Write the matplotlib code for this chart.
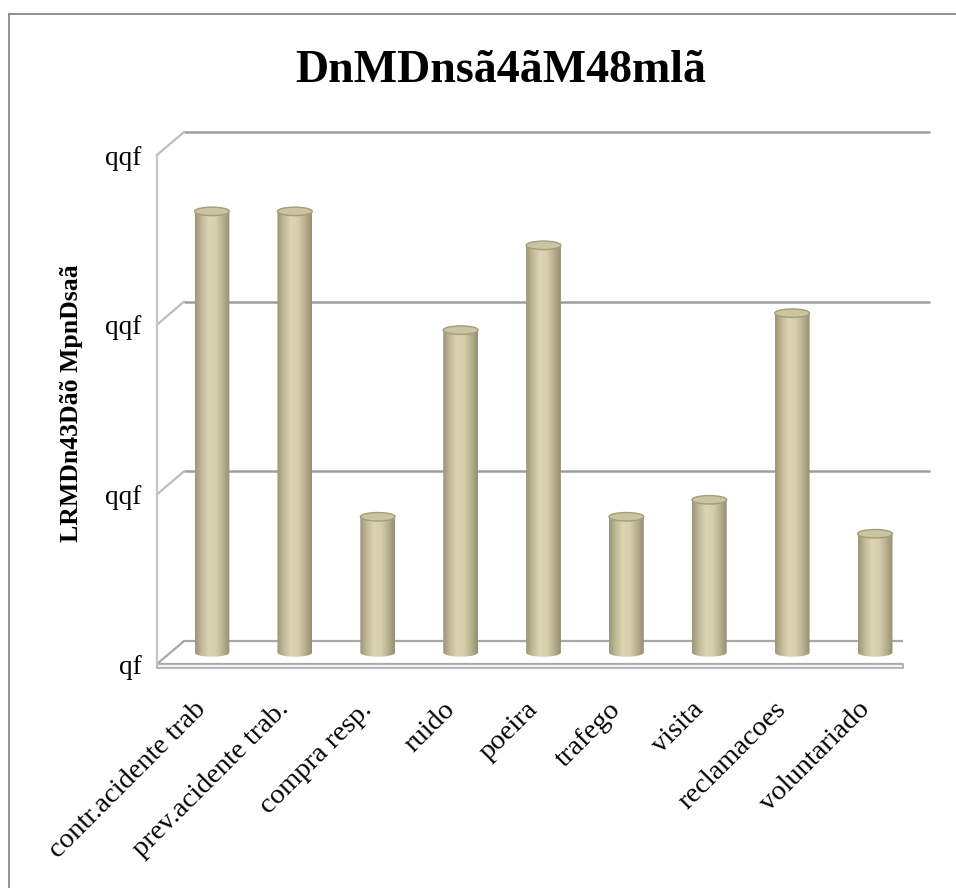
import numpy as np
import matplotlib
matplotlib.use("Agg")
import matplotlib.pyplot as plt
from matplotlib.colors import LinearSegmentedColormap
from matplotlib.lines import Line2D
from matplotlib.patches import Ellipse, PathPatch, Polygon
from matplotlib.path import Path

categories = [
    "contr.acidente trab",
    "prev.acidente trab.",
    "compra resp.",
    "ruido",
    "poeira",
    "trafego",
    "visita",
    "reclamacoes",
    "voluntariado",
]
values = [26, 26, 8, 19, 24, 8, 9, 20, 7]
y_ticks = [0, 10, 20, 30]
y_tick_labels = ["qf", "qqf", "qqf", "qqf"]
title = "DnMDnsã4ãM48mlã"
y_label = "LRMDn43Dãõ MpnDsaã"

SERIF = "Liberation Serif"
W, H = 956, 888

# depth of the pseudo-3d box, in data units (x: categories, y: values)
DX, DY = 0.326, 1.355
BAR_W = 0.42
CAP_H = 0.5

fig = plt.figure(figsize=(W / 100, H / 100), dpi=100)
fig.patch.set_facecolor("white")

left, right, top, bottom = 157, 903, 155, 664
ax = fig.add_axes([left / W, 1 - bottom / H, (right - left) / W, (bottom - top) / H])
ax.set_facecolor("none")
for s in ax.spines.values():
    s.set_visible(False)

x0, x1 = -0.5, len(categories) - 0.5
ymax = y_ticks[-1]

# floor slab
floor = Polygon([(x0, 0), (x1, 0), (x1 + DX, DY), (x0 + DX, DY)], closed=True,
                facecolor="white", edgecolor="#a8a8a8", lw=1.6, zorder=1)
ax.add_patch(floor)
slab = Polygon([(x0, 0), (x1, 0), (x1, -0.22), (x0, -0.22)], closed=True,
               facecolor="#f4f4f4", edgecolor="#a8a8a8", lw=1.2, zorder=1, clip_on=False)
ax.add_patch(slab)

# back wall gridlines and left wall
for v in y_ticks[1:]:
    ax.plot([x0 + DX, x1 + DX], [v + DY, v + DY], color="#9e9e9e", lw=1.8,
            zorder=1, clip_on=False, solid_capstyle="butt")
    ax.plot([x0, x0 + DX], [v, v + DY], color="#bdbdbd", lw=1.6, zorder=1, clip_on=False)
ax.plot([x0, x0], [0, ymax], color="#c4c4c4", lw=1.6, zorder=1, clip_on=False)

# cylinders
body_cmap = LinearSegmentedColormap.from_list(
    "cyl", ["#9d9677", "#c2bb98", "#dcd5b4", "#d6cfad", "#b9b290", "#958e70"])
grad = np.linspace(0, 1, 128)[None, :]
theta = np.linspace(0, -np.pi, 40)
for i, v in enumerate(values):
    xc = i + DX / 2
    yb, yt = DY / 2, v + DY / 2
    xa, xb = xc - BAR_W / 2, xc + BAR_W / 2
    verts = [(xa, yb), (xa, yt), (xb, yt), (xb, yb)]
    verts += list(zip(xc + BAR_W / 2 * np.cos(theta), yb + CAP_H / 2 * np.sin(theta)))
    verts.append((xa, yb))
    clip = PathPatch(Path(verts), transform=ax.transData)
    im = ax.imshow(grad, cmap=body_cmap, extent=(xa, xb, yb - CAP_H, yt),
                   aspect="auto", zorder=3, interpolation="bicubic")
    im.set_clip_path(clip)
    ax.add_patch(Ellipse((xc, yt), BAR_W, CAP_H, facecolor="#cbc4a1",
                         edgecolor="#a39c7d", lw=1.0, zorder=4))

ax.set_xlim(x0, x1)
ax.set_ylim(0, ymax)

ax.set_yticks(y_ticks)
ax.set_yticklabels(y_tick_labels, fontsize=19.5, family=SERIF)
ax.set_xticks(np.arange(len(categories)) + 0.05)
ax.set_xticklabels(categories, rotation=45, ha="right", va="center",
                   rotation_mode="anchor", fontsize=20.5, family=SERIF)
ax.tick_params(axis="y", length=0, pad=11)
ax.tick_params(axis="x", length=0, pad=30)

fig.text(501 / W, 1 - 82 / H, title, ha="center", va="baseline",
         fontsize=33, fontweight="bold", family=SERIF)
fig.text(72 / W, 1 - 403 / H, y_label, ha="center", va="center", rotation=90,
         fontsize=18.5, fontweight="bold", family=SERIF)

# chart frame
fig.add_artist(Line2D([8.5 / W, 8.5 / W], [0, 1 - 14 / H], color="#8a8a8a", lw=1.3))
fig.add_artist(Line2D([8.5 / W, 1], [1 - 14 / H, 1 - 14 / H], color="#8a8a8a", lw=1.3))

fig.savefig("out.png", dpi=100)
